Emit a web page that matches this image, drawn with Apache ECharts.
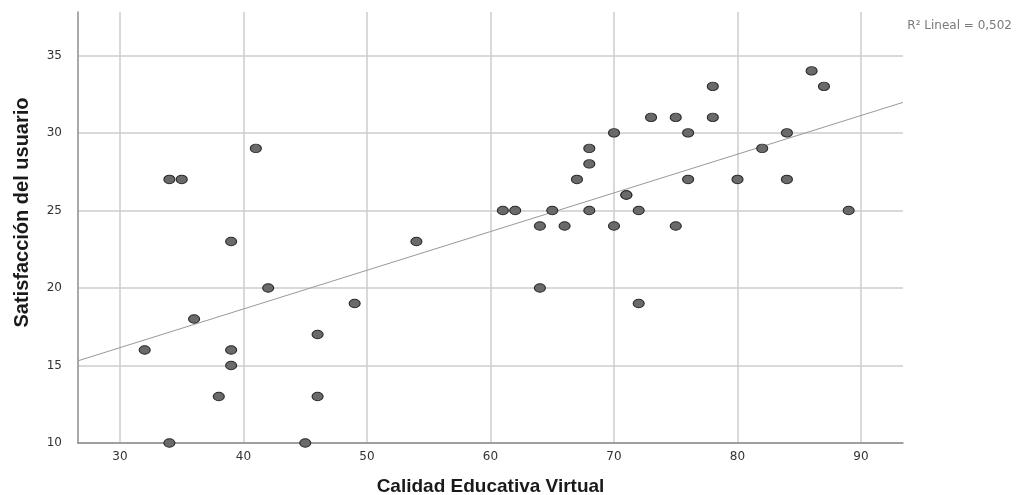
<!DOCTYPE html>
<html>
<head>
<meta charset="utf-8">
<script src="https://cdn.jsdelivr.net/npm/echarts@6/dist/echarts.min.js"></script>
<style>
  html, body { margin: 0; padding: 0; background: #fff; }
  #chart { width: 1025px; height: 495px; }
</style>
</head>
<body>
<div id="chart"></div>
<script>
// Calidad Educativa Virtual (x) vs Satisfacción del usuario (y), one entry per respondent
const calidad = [34, 35, 41, 39, 42, 36, 32, 39, 39, 38, 34, 45, 46, 46, 49, 54,
  61, 62, 64, 64, 65, 66, 67, 68, 68, 68, 70, 70, 71, 71, 72, 72, 73, 75, 75,
  76, 76, 78, 78, 80, 82, 84, 84, 86, 87, 89];
const satisfaccion = [27, 27, 29, 23, 20, 18, 16, 16, 15, 13, 10, 10, 17, 13, 19, 23,
  25, 25, 24, 20, 25, 24, 27, 29, 28, 25, 30, 24, 26, 26, 25, 19, 31, 31, 24,
  30, 27, 33, 31, 27, 29, 30, 27, 34, 33, 25];

const xTicks = [30, 40, 50, 60, 70, 80, 90];
const yTicks = [10, 15, 20, 25, 30, 35];
const xRange = [26.6, 93.4];
const yRange = [10, 37.8];
const fitLabel = 'R² Lineal = 0,502';

// least-squares fit line across the full x range
function linearFit(xs, ys) {
  const n = xs.length;
  const mx = xs.reduce((a, b) => a + b, 0) / n;
  const my = ys.reduce((a, b) => a + b, 0) / n;
  let sxy = 0, sxx = 0;
  for (let i = 0; i < n; i++) {
    sxy += (xs[i] - mx) * (ys[i] - my);
    sxx += (xs[i] - mx) * (xs[i] - mx);
  }
  const b = sxy / sxx;
  return { a: my - b * mx, b: b };
}
const fit = linearFit(calidad, satisfaccion);
const fitLine = xRange.map(x => [x, fit.a + fit.b * x]);
const points = calidad.map((x, i) => [x, satisfaccion[i]]);

const titleFont = '"Liberation Sans", Arial, sans-serif';
const tickFont = '"DejaVu Sans", Verdana, sans-serif';
const chart = echarts.init(document.getElementById('chart'), null, { renderer: 'canvas' });
chart.setOption({
  animation: false,
  backgroundColor: '#ffffff',
  title: {
    text: fitLabel,
    right: 8,
    top: 15,
    textStyle: { fontFamily: tickFont, fontSize: 12, fontWeight: 'normal', color: '#7a7a7a' }
  },
  grid: { left: 78, right: 122, top: 12, bottom: 52, containLabel: false, outerBoundsMode: 'none' },
  xAxis: {
    type: 'value',
    min: xRange[0],
    max: xRange[1],
    name: 'Calidad Educativa Virtual',
    nameLocation: 'middle',
    nameGap: 34,
    nameTextStyle: { fontFamily: titleFont, fontSize: 19, fontWeight: 'bold', color: '#1a1a1a' },
    axisLine: { show: true, lineStyle: { color: '#8c8c8c', width: 1.5 } },
    axisTick: { show: false, customValues: xTicks },
    axisLabel: { customValues: xTicks, fontFamily: tickFont, fontSize: 12, color: '#333', margin: 8 },
    splitLine: { show: true, lineStyle: { color: '#cccccc', width: 1.5 } }
  },
  yAxis: {
    type: 'value',
    min: yRange[0],
    max: yRange[1],
    name: 'Satisfacción del usuario',
    nameLocation: 'middle',
    nameGap: 46,
    nameTextStyle: { fontFamily: titleFont, fontSize: 20, fontWeight: 'bold', color: '#1a1a1a', padding: [0, 0, 0, 30] },
    axisLine: { show: true, lineStyle: { color: '#8c8c8c', width: 1.5 } },
    axisTick: { show: false, customValues: yTicks },
    axisLabel: { customValues: yTicks, fontFamily: tickFont, fontSize: 12, color: '#333', margin: 16 },
    splitLine: { show: true, lineStyle: { color: '#cccccc', width: 1.5 } }
  },
  series: [
    {
      type: 'line',
      data: fitLine,
      symbol: 'none',
      silent: true,
      lineStyle: { color: '#999999', width: 1 },
      z: 2
    },
    {
      type: 'scatter',
      data: points,
      symbol: 'circle',
      symbolSize: [11, 8.5],
      itemStyle: { color: '#6a6a6a', borderColor: '#2a2a2a', borderWidth: 1, opacity: 1 },
      z: 3
    }
  ]
});
</script>
</body>
</html>
